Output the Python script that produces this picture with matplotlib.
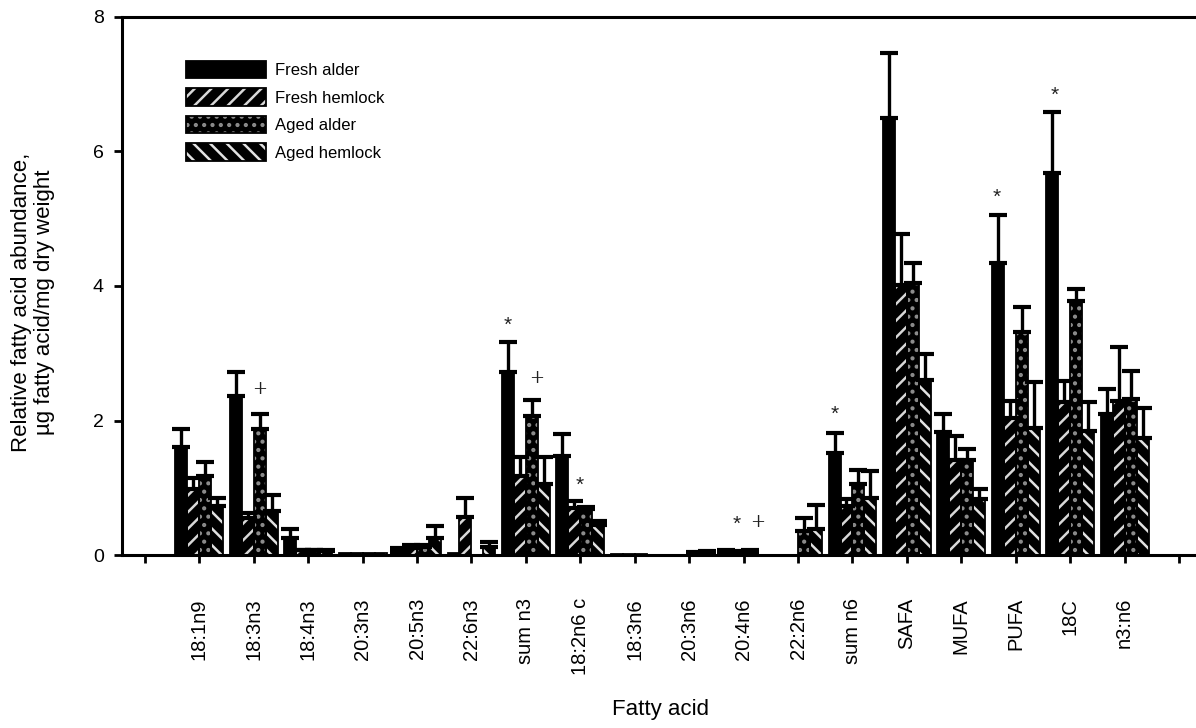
import matplotlib
matplotlib.use('Agg')
import matplotlib.pyplot as plt
import numpy as np
from matplotlib.patches import Patch

plt.rcParams['font.family'] = ['Liberation Sans', 'DejaVu Sans']
plt.rcParams['hatch.linewidth'] = 1.8

categories = ['18:1n9', '18:3n3', '18:4n3', '20:3n3', '20:5n3', '22:6n3', 'sum n3',
              '18:2n6 c', '18:3n6', '20:3n6', '20:4n6', '22:2n6', 'sum n6',
              'SAFA', 'MUFA', 'PUFA', '18C', 'n3:n6']
series = ['Fresh alder', 'Fresh hemlock', 'Aged alder', 'Aged hemlock']

fresh_alder = [1.60, 2.36, 0.26, 0.03, 0.05, 0.03, 2.72, 1.47, 0.02, 0.0, 0.05, 0.0,
               1.51, 6.50, 1.83, 4.34, 5.68, 2.10]
fresh_alder_err = [0.28, 0.36, 0.13, 0.0, 0.05, 0.0, 0.44, 0.33, 0.0, 0.0, 0.02, 0.0,
                   0.31, 0.96, 0.27, 0.71, 0.90, 0.37]
fresh_hemlock = [0.98, 0.55, 0.07, 0.03, 0.10, 0.57, 1.18, 0.70, 0.02, 0.0, 0.04, 0.0,
                 0.73, 4.02, 1.42, 2.03, 2.28, 2.29]
fresh_hemlock_err = [0.16, 0.07, 0.01, 0.0, 0.05, 0.28, 0.27, 0.10, 0.0, 0.0, 0.02, 0.0,
                     0.10, 0.76, 0.35, 0.26, 0.30, 0.80]
aged_alder = [1.18, 1.87, 0.07, 0.03, 0.12, 0.0, 2.06, 0.68, 0.01, 0.03, 0.05, 0.35,
              1.05, 4.04, 1.41, 3.31, 3.77, 2.32]
aged_alder_err = [0.21, 0.22, 0.01, 0.0, 0.03, 0.0, 0.24, 0.03, 0.0, 0.02, 0.02, 0.20,
                  0.22, 0.30, 0.16, 0.38, 0.18, 0.42]
aged_hemlock = [0.73, 0.66, 0.06, 0.03, 0.26, 0.12, 1.06, 0.44, 0.0, 0.04, 0.0, 0.39,
                0.85, 2.60, 0.83, 1.89, 1.84, 1.74]
aged_hemlock_err = [0.12, 0.23, 0.01, 0.0, 0.17, 0.08, 0.39, 0.06, 0.0, 0.02, 0.0, 0.36,
                    0.40, 0.39, 0.15, 0.68, 0.43, 0.45]

# significance marks: (category, symbol, offset within group, height)
marks = [('18:3n3', '+', 0.10, 2.47), ('sum n3', '*', -0.33, 3.48),
         ('sum n3', '+', 0.20, 2.63), ('18:2n6 c', '*', -0.02, 1.09),
         ('20:4n6', '*', -0.13, 0.51), ('20:4n6', '+', 0.26, 0.49),
         ('sum n6', '*', -0.33, 2.15), ('PUFA', '*', -0.35, 5.38),
         ('18C', '*', -0.28, 6.89)]

values = [fresh_alder, fresh_hemlock, aged_alder, aged_hemlock]
errors = [fresh_alder_err, fresh_hemlock_err, aged_alder_err, aged_hemlock_err]
hatches = [None, '//', '..', '\\\\']
hatch_colors = ['black', '#d8d8d8', '#8c8c8c', '#e2e2e2']

W, H = 1196, 728
fig = plt.figure(figsize=(W / 100, H / 100), dpi=100)
ax = fig.add_axes([122 / W, 173 / H, (1215 - 122) / W, 538 / H])

x = np.arange(1, len(categories) + 1)
w = 0.22
for i in range(4):
    pos = x + (i - 1.5) * w
    v = np.array(values[i])
    e = np.array(errors[i])
    ax.bar(pos, v, w, color='black', edgecolor=hatch_colors[i], hatch=hatches[i],
           linewidth=0, zorder=2)
    ax.bar(pos, v, w, fill=False, edgecolor='black', linewidth=1.3, zorder=3)
    m = e > 0
    ax.errorbar(pos[m], v[m], yerr=[np.zeros(m.sum()), e[m]], fmt='none',
                ecolor='black', elinewidth=2.4, capsize=6.5, capthick=3, zorder=4)

for cat, sym, off, yv in marks:
    xi = categories.index(cat) + 1 + off
    if sym == '*':
        ax.text(xi, yv - 0.06, sym, ha='center', va='center', fontsize=15, color='#222222')
    else:
        ax.text(xi, yv, sym, ha='center', va='center', fontsize=13, color='#222222',
                family=['DejaVu Serif'], fontweight='light')

ax.set_xlim(-0.42, 19.66)
ax.set_ylim(0, 8)
ax.set_xticks(np.arange(0, len(categories) + 2))
ax.set_xticklabels([''] + categories + [''], rotation=90, fontsize=14.5)
ax.set_yticks([0, 2, 4, 6, 8])
ax.set_yticklabels(['0', '2', '4', '6', '8'], fontsize=14)
ax.tick_params(axis='x', direction='out', length=6, width=2, pad=25)
ax.tick_params(axis='y', direction='out', length=6, width=2, pad=7)
for s in ['left', 'bottom', 'top']:
    ax.spines[s].set_linewidth(2.2)
ax.spines['right'].set_visible(False)

fig.text(33 / W, 1 - 302 / H,
         'Relative fatty acid abundance,\nµg fatty acid/mg dry weight',
         rotation=90, ha='center', va='center', fontsize=16, linespacing=1.12,
         multialignment='center')
fig.text(660 / W, 1 - 710 / H, 'Fatty acid', ha='center', va='center', fontsize=16)

handles = [(Patch(facecolor='black', edgecolor=hatch_colors[i], hatch=hatches[i], linewidth=0),
            Patch(fill=False, edgecolor='black', linewidth=1.3)) for i in range(4)]
ax.legend(handles, series, loc='upper left', bbox_to_anchor=(186 / W, 1 - 61 / H),
          bbox_transform=fig.transFigure, frameon=False, fontsize=12,
          handlelength=4.8, handleheight=1.2, handletextpad=0.55, labelspacing=0.62,
          borderpad=0, borderaxespad=0)

fig.savefig('out.png', dpi=100)
